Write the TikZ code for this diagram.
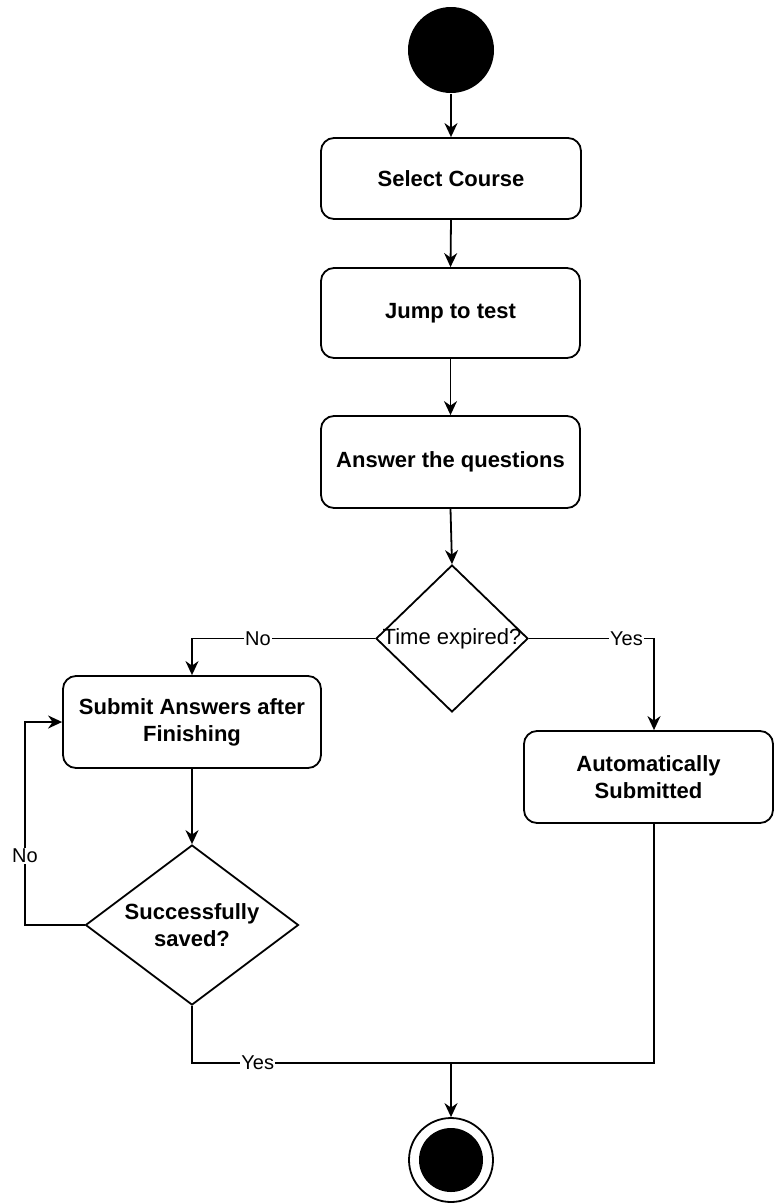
\documentclass[tikz,border=0pt]{standalone}
\usepackage{fontspec}
\setmainfont{Liberation Sans}
\usetikzlibrary{shapes.geometric,arrows.meta}
\begin{document}
\begin{tikzpicture}[x=1pt,y=-1pt,
  every path/.style={line width=1.8pt},
  flow/.style={-{Stealth[length=14pt,width=13pt,inset=4.5pt]}},
  action/.style={draw,rounded corners=13pt,inner sep=0pt,align=center,
    font=\fontsize{22}{27}\selectfont\bfseries},
  decision/.style={draw,diamond,inner sep=0pt},
  elabel/.style={fill=white,inner sep=1pt,font=\fontsize{20}{24}\selectfont},
  dtext/.style={align=center,inner sep=0pt}]
\useasboundingbox (0,0) rectangle (775,1203);

% initial node
\node[circle,fill=black,minimum size=86pt,inner sep=0pt] (start) at (451,50) {};

% activities
\node[action,minimum width=260pt,minimum height=81pt] (sel) at (451,178.5) {Select Course};
\node[action,minimum width=259pt,minimum height=90pt] (jump) at (450.5,313) {Jump to test};
\node[action,minimum width=259pt,minimum height=92pt] (ans) at (450.5,462) {Answer the questions};

% first decision
\node[decision,minimum width=152pt,minimum height=147pt] (dec1) at (452,638.5) {};
\node[dtext,font=\fontsize{22}{27}\selectfont] at (dec1.center) {Time expired?};

\node[action,minimum width=258pt,minimum height=92pt] (submit) at (192,722) {Submit Answers after\\Finishing};
\node[action,minimum width=249pt,minimum height=92pt] (auto) at (648.5,777) {Automatically\\Submitted};

% second decision
\node[decision,minimum width=213pt,minimum height=160pt] (dec2) at (192,925) {};
\node[dtext,font=\fontsize{22}{27}\selectfont\bfseries] at (dec2.center) {Successfully\\saved?};

% final node
\node[circle,draw,minimum size=84pt,inner sep=0pt] (end) at (451,1160) {};
\fill (end.center) circle (32);

\coordinate (merge) at (451,1063);

% connectors
\draw[flow] (start.south) -- (sel.north);
\draw[flow] (sel.south) -- (jump.north);
\draw[flow] (jump.south) -- (ans.north);
\draw[flow] (ans.south) -- (dec1.north);
\draw[flow] (dec1.west) -| node[elabel,pos=0.32] {No} (submit.north);
\draw[flow] (dec1.east) -| node[elabel,pos=0.39] {Yes} ([xshift=5.5pt]auto.north);
\draw[flow] (submit.south) -- (dec2.north);
\draw[flow] (dec2.west) -- (25,925) -- node[elabel,pos=0.34] {No} (25,722) -- (submit.west);
\draw (dec2.south) |- node[elabel,pos=0.627] {Yes} (merge);
\draw ([xshift=5.5pt]auto.south) |- (merge);
\draw[flow] (merge) -- (end.north);
\end{tikzpicture}
\end{document}
